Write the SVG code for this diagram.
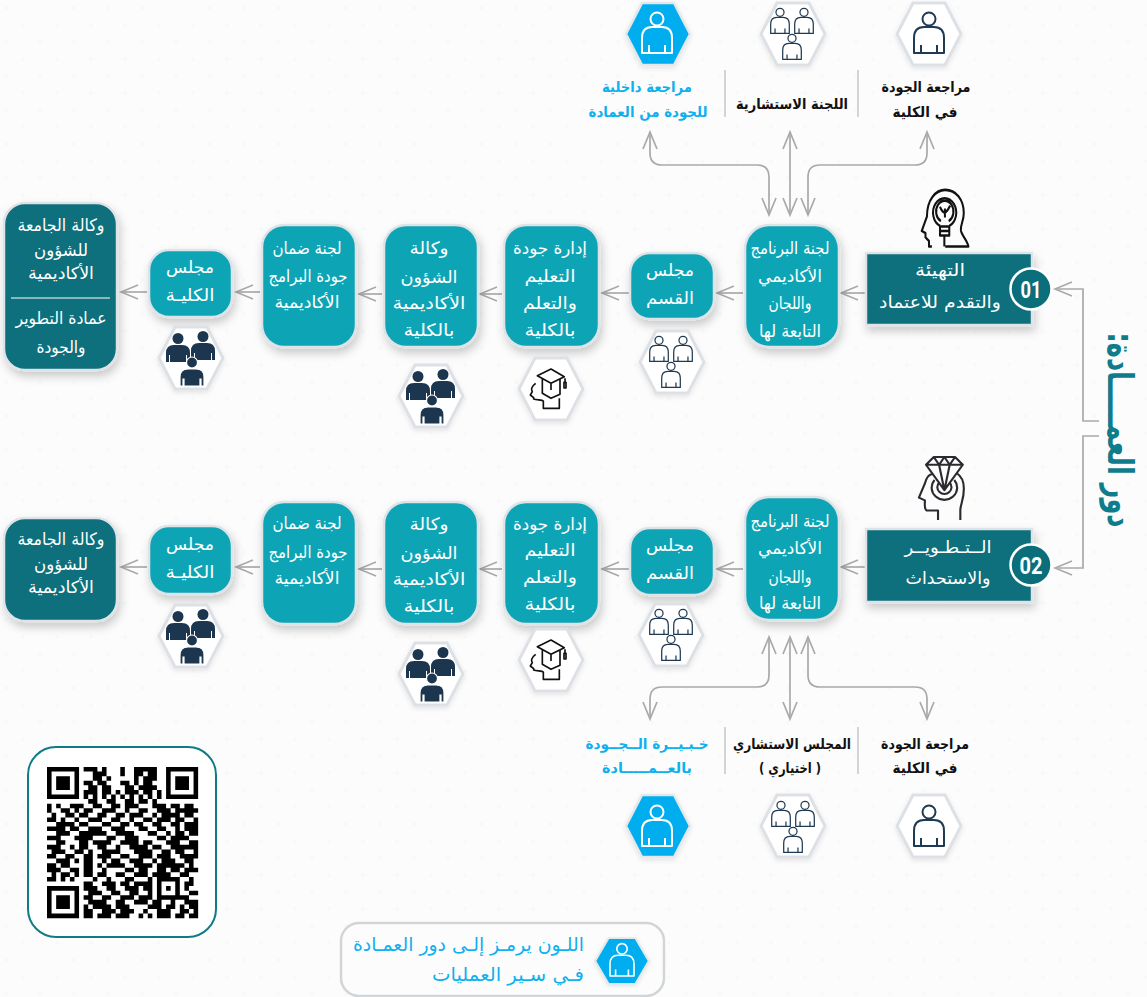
<svg xmlns="http://www.w3.org/2000/svg" width="1147" height="997" viewBox="0 0 1147 997">
<style>
text{font-family:"DejaVu Sans Condensed","DejaVu Sans",sans-serif;text-anchor:middle;direction:rtl}
.w{fill:#fff;font-size:17px}
.d{fill:#111;font-size:14.500px;font-weight:700}
.b{fill:#0fb0ee;font-size:14.500px;font-weight:700}
.l{fill:#0fb0ee;font-size:19px}
.box{fill:#10a5b6;stroke:#dde3e6;stroke-width:2.5;filter:url(#sh)}
.dark{fill:#0b6f7b;stroke:#dde3e6;stroke-width:2.5;filter:url(#sh)}
.hw{fill:#fff;stroke:#dde1e5;stroke-width:3;filter:url(#sh2)}
.hb{fill:#00aeef;stroke:#e4e8eb;stroke-width:2.5;filter:url(#sh2)}
.con{fill:none;stroke:#a9a9ab;stroke-width:1.7}
.sep{fill:none;stroke:#d2d4d6;stroke-width:2}
.po{fill:none;stroke-width:2;stroke-linejoin:round}
.ic{fill:none;stroke-linejoin:round}
</style>
<defs>
<pattern id="dots" width="34" height="34" patternUnits="userSpaceOnUse"><circle cx="6" cy="8" r="2" fill="#f7f8f8"/><circle cx="23" cy="25" r="2" fill="#f7f8f8"/></pattern>
<filter id="sh" x="-30%" y="-30%" width="160%" height="170%"><feDropShadow dx="2" dy="5" stdDeviation="5" flood-color="#000" flood-opacity=".2"/></filter>
<filter id="sh2" x="-30%" y="-30%" width="160%" height="170%"><feDropShadow dx="0" dy="2" stdDeviation="2.5" flood-color="#000" flood-opacity=".1"/></filter>
<marker id="a" markerUnits="userSpaceOnUse" markerWidth="22" markerHeight="18" viewBox="-1 -9 21 18" refX="18" refY="0" orient="auto-start-reverse"><path d="M1 -7L18 0L1 7" fill="none" stroke="#a9a9ab" stroke-width="1.7"/></marker>
<polygon id="hex" points="-32,0 -16,-31 16,-31 32,0 16,31 -16,31"/>
<g id="person" class="po"><circle cx="0" cy="-14" r="6.5"/><path d="M-15 20V5Q-15-6-5-6H5Q15-6 15 5V20ZM-8 12V20M8 12V20"/></g>
<g id="three"><use href="#person" transform="translate(-12 -12) scale(.62)"/><use href="#person" transform="translate(12 -12) scale(.62)"/><use href="#person" transform="translate(0 14) scale(.62)"/></g>
<g id="solid"><circle cx="0" cy="-6.5" r="5.5"/><path d="M-12 17V8Q-12 0-4 0H4Q12 0 12 8V17H9V10H8V17H-8V10H-9V17Z"/></g>
<g id="solid3" fill="#1d3650"><use href="#solid" transform="translate(-13 -13)"/><use href="#solid" transform="translate(12 -15)"/><use href="#solid" transform="translate(1 11)" stroke="#fff" stroke-width="1.2"/></g>
<g id="gradhead" class="ic" stroke="#111" stroke-width="5"><path d="M67 62L108 42L148 65L108 85ZM82 72V115L108 130L135 118V72M108 85V105M150 70V82"/><rect x="147" y="82" width="6" height="17"/><path d="M62 85C48 95 48 105 52 110L46 120L56 128V132C65 135 82 135 85 138V160H133V130"/></g>
</defs>
<rect width="1147" height="997" fill="#fcfcfc"/>
<rect width="1147" height="997" fill="url(#dots)"/>

<g id="connectors" class="con">
<path marker-start="url(#a)" marker-end="url(#a)" d="M769 215V177Q769 165 757 165H662Q650 165 650 153V132"/>
<path marker-start="url(#a)" marker-end="url(#a)" d="M790 215V132"/>
<path marker-start="url(#a)" marker-end="url(#a)" d="M808 215V177Q808 165 820 165H915Q927 165 927 153V132"/>
<path marker-end="url(#a)" d="M865 293H841"/><path marker-end="url(#a)" d="M743 293H717"/><path marker-end="url(#a)" d="M629 293H602"/><path marker-end="url(#a)" d="M502 294H480"/><path marker-end="url(#a)" d="M382 294H359"/><path marker-end="url(#a)" d="M260 292H236"/><path marker-end="url(#a)" d="M147 292H121"/>
<path marker-end="url(#a)" d="M865 567H841"/><path marker-end="url(#a)" d="M743 569H717"/><path marker-end="url(#a)" d="M629 569H602"/><path marker-end="url(#a)" d="M502 569H480"/><path marker-end="url(#a)" d="M382 569H359"/><path marker-end="url(#a)" d="M260 567H236"/><path marker-end="url(#a)" d="M147 567H121"/>
<path marker-start="url(#a)" marker-end="url(#a)" d="M769 637V675Q769 687 757 687H662Q650 687 650 699V719"/>
<path marker-start="url(#a)" marker-end="url(#a)" d="M790 637V719"/>
<path marker-start="url(#a)" marker-end="url(#a)" d="M808 637V675Q808 687 820 687H915Q927 687 927 699V719"/>
<path marker-end="url(#a)" d="M1099 421H1083V289H1055"/>
<path marker-end="url(#a)" d="M1099 436H1083V568H1055"/>
</g>
<g id="separators" class="sep"><path d="M725 70V117M858 70V117M725 727V774M858 727V774"/></g>

<g id="top-internal"><use href="#hex" class="hb" transform="translate(658 34)"/><use href="#person" stroke="#fff" transform="translate(657 33)"/><text class="b" x="647" y="92" textLength="90" lengthAdjust="spacingAndGlyphs">مراجعة داخلية</text><text class="b" x="648" y="117" textLength="119" lengthAdjust="spacingAndGlyphs">للجودة من العمادة</text></g>
<g id="top-advisory"><use href="#hex" class="hw" transform="translate(793 34)"/><use href="#three" stroke="#1f3a52" transform="translate(792 33)"/><text class="d" x="792" y="109" textLength="112" lengthAdjust="spacingAndGlyphs">اللجنة الاستشارية</text></g>
<g id="top-review"><use href="#hex" class="hw" transform="translate(929 34)"/><use href="#person" stroke="#1f3a52" transform="translate(929 33)"/><text class="d" x="926" y="92" textLength="89" lengthAdjust="spacingAndGlyphs">مراجعة الجودة</text><text class="d" x="925" y="117" textLength="65" lengthAdjust="spacingAndGlyphs">في الكلية</text></g>

<g id="r1-start"><g transform="translate(911 187) scale(.29 .36)" class="ic" stroke="#111" stroke-width="7"><path d="M72 165H62V150L50 140V128L37 122L55 82C55 35 85 8 118 8C155 8 182 35 182 72C182 95 170 105 172 120C175 135 195 150 198 165H118"/><path d="M100 108A40 40 0 1 1 132 108M103 95A30 30 0 1 1 130 95M100 110H132V135H100ZM100 122H132M115 135V165M117 85V60M100 55Q107 70 117 72M135 52Q128 65 117 72"/></g><rect class="dark" x="866" y="253" width="166" height="72"/><text class="w" x="940" y="276" textLength="50" lengthAdjust="spacingAndGlyphs">التهيئة</text><text class="w" x="940" y="308" textLength="122" lengthAdjust="spacingAndGlyphs">والتقدم للاعتماد</text><circle cx="1031" cy="289" r="20.5" fill="#0b6f7b" stroke="#fff" stroke-width="2.5"/><text x="1031" y="298" fill="#fff" font-size="24" font-weight="700" style="font-family:Roboto,sans-serif;direction:ltr" textLength="21" lengthAdjust="spacingAndGlyphs">01</text></g>
<g id="r1-program"><rect class="box" x="745" y="225" width="94" height="122" rx="24"/><text class="w" x="790" y="254" textLength="79" lengthAdjust="spacingAndGlyphs">لجنة البرنامج</text><text class="w" x="790" y="282" textLength="64" lengthAdjust="spacingAndGlyphs">الأكاديمي</text><text class="w" x="790" y="309" textLength="43" lengthAdjust="spacingAndGlyphs">واللجان</text><text class="w" x="790" y="337" textLength="62" lengthAdjust="spacingAndGlyphs">التابعة لها</text></g>
<g id="r1-dept"><rect class="box" x="630" y="253" width="84" height="66" rx="20"/><text class="w" x="670" y="276" textLength="48" lengthAdjust="spacingAndGlyphs">مجلس</text><text class="w" x="670" y="304" textLength="48" lengthAdjust="spacingAndGlyphs">القسم</text><use href="#hex" class="hw" transform="translate(672 362)"/><use href="#three" stroke="#1f3a52" transform="translate(671 361)"/></g>
<g id="r1-teaching"><rect class="box" x="504" y="225" width="95" height="122" rx="22"/><text class="w" x="550" y="254" textLength="74" lengthAdjust="spacingAndGlyphs">إدارة جودة</text><text class="w" x="550" y="282" textLength="51" lengthAdjust="spacingAndGlyphs">التعليم</text><text class="w" x="550" y="309" textLength="54" lengthAdjust="spacingAndGlyphs">والتعلم</text><text class="w" x="550" y="336" textLength="51" lengthAdjust="spacingAndGlyphs">بالكلية</text><use href="#hex" class="hw" transform="translate(551 389)"/><use href="#gradhead" transform="translate(515 355) scale(.3333)"/></g>
<g id="r1-vice"><rect class="box" x="384" y="225" width="94" height="122" rx="22"/><text class="w" x="429" y="254" textLength="39" lengthAdjust="spacingAndGlyphs">وكالة</text><text class="w" x="429" y="283" textLength="57" lengthAdjust="spacingAndGlyphs">الشؤون</text><text class="w" x="429" y="309" textLength="73" lengthAdjust="spacingAndGlyphs">الأكاديمية</text><text class="w" x="429" y="336" textLength="51" lengthAdjust="spacingAndGlyphs">بالكلية</text><use href="#hex" class="hw" transform="translate(431 396)"/><use href="#solid3" transform="translate(431 396)"/></g>
<g id="r1-assurance"><rect class="box" x="262" y="225" width="94" height="122" rx="22"/><text class="w" x="307" y="254" textLength="69" lengthAdjust="spacingAndGlyphs">لجنة ضمان</text><text class="w" x="308" y="282" textLength="79" lengthAdjust="spacingAndGlyphs">جودة البرامج</text><text class="w" x="307" y="308" textLength="65" lengthAdjust="spacingAndGlyphs">الأكاديمية</text></g>
<g id="r1-college"><rect class="box" x="149" y="250" width="83" height="67" rx="20"/><text class="w" x="190" y="273" textLength="48" lengthAdjust="spacingAndGlyphs">مجلس</text><text class="w" x="190" y="301" textLength="49" lengthAdjust="spacingAndGlyphs">الكليـة</text><use href="#hex" class="hw" transform="translate(191 358)"/><use href="#solid3" transform="translate(191 358)"/></g>
<g id="r1-univ"><rect class="dark" x="4" y="203" width="113" height="167" rx="21"/><text class="w" x="61" y="231" textLength="87" lengthAdjust="spacingAndGlyphs">وكالة الجامعة</text><text class="w" x="61" y="256" textLength="54" lengthAdjust="spacingAndGlyphs">للشؤون</text><text class="w" x="61" y="279" textLength="66" lengthAdjust="spacingAndGlyphs">الأكاديمية</text><path d="M11 298H110" stroke="#fff" stroke-width="1"/><text class="w" x="61" y="324" textLength="91" lengthAdjust="spacingAndGlyphs">عمادة التطوير</text><text class="w" x="61" y="353" textLength="49" lengthAdjust="spacingAndGlyphs">والجودة</text></g>

<g id="r2-start"><g transform="translate(909 449.500) scale(.354 .339)" class="ic" stroke="#2a2a30" stroke-width="6"><path d="M48 45L70 22H130L152 45L100 120ZM48 45H152M70 22L85 45L100 22L115 45L130 22M85 45L100 120L115 45"/><path d="M82 208V180H50C42 175 45 160 45 150L28 142L45 100C48 85 55 75 65 72M135 70C150 80 155 95 155 115C155 150 145 160 145 180V208M72 90A36 36 0 1 0 128 90M85 98A20 20 0 1 0 115 98"/></g><rect class="dark" x="866" y="529" width="166" height="73"/><text class="w" x="948" y="553" textLength="87" lengthAdjust="spacingAndGlyphs">الــتـطـويــر</text><text class="w" x="948" y="584" textLength="85" lengthAdjust="spacingAndGlyphs">والاستحداث</text><circle cx="1031" cy="565" r="20.5" fill="#0b6f7b" stroke="#fff" stroke-width="2.5"/><text x="1031" y="574" fill="#fff" font-size="24" font-weight="700" style="font-family:Roboto,sans-serif;direction:ltr" textLength="23" lengthAdjust="spacingAndGlyphs">02</text></g>
<g id="r2-program"><rect class="box" x="745" y="497" width="94" height="123" rx="24"/><text class="w" x="790" y="527" textLength="79" lengthAdjust="spacingAndGlyphs">لجنة البرنامج</text><text class="w" x="790" y="554" textLength="64" lengthAdjust="spacingAndGlyphs">الأكاديمي</text><text class="w" x="790" y="583" textLength="43" lengthAdjust="spacingAndGlyphs">واللجان</text><text class="w" x="790" y="609" textLength="62" lengthAdjust="spacingAndGlyphs">التابعة لها</text></g>
<g id="r2-dept"><rect class="box" x="630" y="528" width="84" height="67" rx="20"/><text class="w" x="670" y="551" textLength="48" lengthAdjust="spacingAndGlyphs">مجلس</text><text class="w" x="670" y="579" textLength="48" lengthAdjust="spacingAndGlyphs">القسم</text><use href="#hex" class="hw" transform="translate(671 635)"/><use href="#three" stroke="#1f3a52" transform="translate(671 634)"/></g>
<g id="r2-teaching"><rect class="box" x="504" y="502" width="95" height="122" rx="22"/><text class="w" x="550" y="530" textLength="74" lengthAdjust="spacingAndGlyphs">إدارة جودة</text><text class="w" x="550" y="556" textLength="51" lengthAdjust="spacingAndGlyphs">التعليم</text><text class="w" x="550" y="583" textLength="54" lengthAdjust="spacingAndGlyphs">والتعلم</text><text class="w" x="550" y="610" textLength="51" lengthAdjust="spacingAndGlyphs">بالكلية</text><use href="#hex" class="hw" transform="translate(551 660)"/><use href="#gradhead" transform="translate(515 626) scale(.3333)"/></g>
<g id="r2-vice"><rect class="box" x="384" y="502" width="94" height="122" rx="22"/><text class="w" x="429" y="530" textLength="39" lengthAdjust="spacingAndGlyphs">وكالة</text><text class="w" x="429" y="559" textLength="57" lengthAdjust="spacingAndGlyphs">الشؤون</text><text class="w" x="429" y="585" textLength="73" lengthAdjust="spacingAndGlyphs">الأكاديمية</text><text class="w" x="429" y="612" textLength="51" lengthAdjust="spacingAndGlyphs">بالكلية</text><use href="#hex" class="hw" transform="translate(431 674)"/><use href="#solid3" transform="translate(431 674)"/></g>
<g id="r2-assurance"><rect class="box" x="262" y="502" width="94" height="122" rx="22"/><text class="w" x="307" y="529" textLength="69" lengthAdjust="spacingAndGlyphs">لجنة ضمان</text><text class="w" x="308" y="558" textLength="79" lengthAdjust="spacingAndGlyphs">جودة البرامج</text><text class="w" x="307" y="584" textLength="65" lengthAdjust="spacingAndGlyphs">الأكاديمية</text></g>
<g id="r2-college"><rect class="box" x="149" y="526" width="83" height="68" rx="20"/><text class="w" x="190" y="550" textLength="48" lengthAdjust="spacingAndGlyphs">مجلس</text><text class="w" x="190" y="578" textLength="49" lengthAdjust="spacingAndGlyphs">الكليـة</text><use href="#hex" class="hw" transform="translate(191 636)"/><use href="#solid3" transform="translate(191 636)"/></g>
<g id="r2-univ"><rect class="dark" x="4" y="518" width="113" height="103" rx="21"/><text class="w" x="61" y="545" textLength="87" lengthAdjust="spacingAndGlyphs">وكالة الجامعة</text><text class="w" x="61" y="570" textLength="54" lengthAdjust="spacingAndGlyphs">للشؤون</text><text class="w" x="61" y="593" textLength="66" lengthAdjust="spacingAndGlyphs">الأكاديمية</text></g>

<g id="bottom-expert"><text class="b" x="647" y="749" textLength="123" lengthAdjust="spacingAndGlyphs">خـبـيــرة الــجــودة</text><text class="b" x="647" y="773" textLength="90" lengthAdjust="spacingAndGlyphs">بالعــمـــــادة</text><use href="#hex" class="hb" transform="translate(658 826)"/><use href="#person" stroke="#fff" transform="translate(657 826)"/></g>
<g id="bottom-advisory"><text class="d" x="792" y="749" textLength="118" lengthAdjust="spacingAndGlyphs">المجلس الاستشاري</text><text class="d" x="790" y="773" textLength="62" lengthAdjust="spacingAndGlyphs">( اختياري )</text><use href="#hex" class="hw" transform="translate(793 826)"/><use href="#three" stroke="#1f3a52" transform="translate(793 826)"/></g>
<g id="bottom-review"><text class="d" x="925" y="749" textLength="88" lengthAdjust="spacingAndGlyphs">مراجعة الجودة</text><text class="d" x="925" y="773" textLength="65" lengthAdjust="spacingAndGlyphs">في الكلية</text><use href="#hex" class="hw" transform="translate(929 826)"/><use href="#person" stroke="#1f3a52" transform="translate(929 826)"/></g>

<text id="role-title" x="0" y="0" transform="translate(1108 430) rotate(90)" fill="#0e7c8a" font-size="36" font-weight="700" textLength="195" lengthAdjust="spacingAndGlyphs">دور العمـــــادة:</text>

<g id="qr"><rect x="28" y="747" width="188" height="190" rx="28" fill="#fff" stroke="#0e7c86" stroke-width="2"/>
<g transform="translate(47 767) scale(4.58)"><path fill="#000" fill-rule="evenodd" d="M0 0h7v7h-7zM1 1v5h5v-5zM2 2h3v3h-3zM26 0h7v7h-7zM27 1v5h5v-5zM28 2h3v3h-3zM0 26h7v7h-7zM1 27v5h5v-5zM2 28h3v3h-3z"/>
<path fill="none" stroke="#000" stroke-width="1" d="M8 .5h3M12 .5h1M16 .5h1M19 .5h5M10 1.5h3M16 1.5h1M19 1.5h2M22 1.5h2M10 2.5h2M13 2.5h1M19 2.5h1M21 2.5h3M8 3.5h2M11 3.5h2M16 3.5h2M19 3.5h1M21 3.5h2M9 4.5h2M12 4.5h2M17 4.5h2M20 4.5h4M8 5.5h3M12 5.5h2M15 5.5h1M17 5.5h3M21 5.5h2M24 5.5h1M8 6.5h1M10 6.5h1M12 6.5h1M14 6.5h1M16 6.5h1M18 6.5h1M20 6.5h1M22 6.5h1M24 6.5h1M9 7.5h2M13 7.5h2M17 7.5h2M20 7.5h2M23 7.5h1
M0 8.5h1M2 8.5h1M5 8.5h3M10 8.5h2M14 8.5h2M17 8.5h3M23 8.5h3M27 8.5h2M30 8.5h2
M0 9.5h1M3 9.5h2M6 9.5h1M8 9.5h2M12 9.5h3M17 9.5h1M20 9.5h2M24 9.5h3M28 9.5h5
M1 10.5h1M4 10.5h2M7 10.5h2M11 10.5h2M15 10.5h2M18 10.5h3M23 10.5h1M25 10.5h4M30 10.5h2
M0 11.5h2M3 11.5h1M6 11.5h1M9 11.5h3M14 11.5h2M18 11.5h1M21 11.5h2M24 11.5h3M28 11.5h2M32 11.5h1
M2 12.5h4M7 12.5h2M12 12.5h2M16 12.5h2M19 12.5h2M23 12.5h2M27 12.5h2M30 12.5h3
M0 13.5h4M5 13.5h2M9 13.5h3M14 13.5h3M20 13.5h2M24 13.5h2M28 13.5h1M30 13.5h3
M2 14.5h3M7 14.5h6M15 14.5h4M22 14.5h2M26 14.5h1M28 14.5h2M31 14.5h2
M0 15.5h3M6 15.5h4M13 15.5h2M17 15.5h3M24 15.5h2M27 15.5h4
M2 16.5h2M7 16.5h2M10 16.5h4M16 16.5h4M21 16.5h2M26 16.5h3M31 16.5h2
M0 17.5h3M5 17.5h1M7 17.5h2M11 17.5h2M15 17.5h1M18 17.5h4M23 17.5h2M27 17.5h6
M1 18.5h3M6 18.5h2M9 18.5h1M12 18.5h4M19 18.5h4M25 18.5h2M28 18.5h2M32 18.5h1
M0 19.5h2M4 19.5h2M8 19.5h2M11 19.5h3M16 19.5h2M20 19.5h3M24 19.5h3M29 19.5h4
M2 20.5h3M6 20.5h1M8 20.5h2M12 20.5h1M14 20.5h2M18 20.5h3M23 20.5h1M25 20.5h3M30 20.5h2
M0 21.5h2M3 21.5h2M8 21.5h2M11 21.5h1M13 21.5h4M19 21.5h4M24 21.5h6M31 21.5h1
M0 22.5h3M5 22.5h2M8 22.5h2M12 22.5h1M17 22.5h2M20 22.5h2M24 22.5h2M27 22.5h2M30 22.5h3
M1 23.5h1M3 23.5h2M6 23.5h1M8 23.5h2M11 23.5h2M15 23.5h2M19 23.5h3M23 23.5h4M29 23.5h2
M0 24.5h2M3 24.5h1M5 24.5h1M10 24.5h1M13 24.5h1M17 24.5h2M22 24.5h1M24 24.5h5M31 24.5h1
M8 25.5h2M12 25.5h3M16 25.5h2M19 25.5h4M24 25.5h1M28 25.5h1M30 25.5h2
M8 26.5h3M13 26.5h2M17 26.5h3M21 26.5h2M24 26.5h1M26 26.5h1M28 26.5h1M30 26.5h1
M9 27.5h3M14 27.5h2M18 27.5h2M22 27.5h1M24 27.5h1M28 27.5h1M31 27.5h2
M8 28.5h2M12 28.5h2M16 28.5h3M20 28.5h3M24 28.5h7
M9 29.5h4M15 29.5h2M19 29.5h3M23 29.5h2M27 29.5h1M30 29.5h3
M8 30.5h1M10 30.5h4M15 30.5h3M22 30.5h3M26 30.5h2M29 30.5h1M31 30.5h2
M8 31.5h2M12 31.5h3M16 31.5h3M21 31.5h1M24 31.5h3M29 31.5h2M32 31.5h1
M8 32.5h2M11 32.5h3M15 32.5h3M20 32.5h1M22 32.5h1M24 32.5h3M28 32.5h2M31 32.5h2"/></g></g>

<g id="legend"><rect x="341" y="923" width="323" height="73" rx="18" fill="#fcfcfc" stroke="#d2d5d8" stroke-width="2.5"/><use href="#hex" class="hb" transform="translate(622 961) scale(.84 .74)"/><use href="#person" stroke="#fff" transform="translate(622 960) scale(.8)"/><text class="l" x="468.500" y="951" textLength="231" lengthAdjust="spacingAndGlyphs">اللـون يرمـز إلـى دور العمـادة</text><text class="l" x="508" y="981" textLength="152" lengthAdjust="spacingAndGlyphs">فـي سـير العمليات</text></g>
</svg>
